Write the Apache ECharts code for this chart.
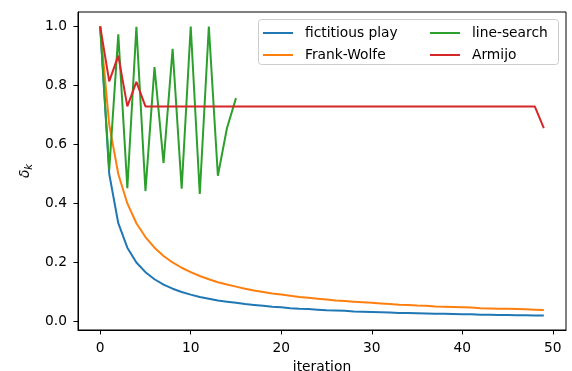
<!DOCTYPE html>
<html>
<head>
<meta charset="utf-8">
<script src="https://cdn.jsdelivr.net/npm/echarts@6/dist/echarts.min.js"></script>
<style>html,body{margin:0;padding:0;background:#fff}#c{width:572px;height:371px}</style>
</head>
<body>
<div id="c"></div>
<script>
const xTicks = [0, 10, 20, 30, 40, 50];
const yTicks = [0, 0.2, 0.4, 0.6, 0.8, 1.0];
const seriesNames = ['fictitious play', 'Frank-Wolfe', 'line-search', 'Armijo'];
const fictitiousPlay = [1.000, 0.500, 0.333, 0.250, 0.200, 0.167, 0.143, 0.125, 0.111, 0.100,
  0.091, 0.083, 0.077, 0.071, 0.067, 0.063, 0.059, 0.056, 0.053, 0.050,
  0.048, 0.045, 0.043, 0.042, 0.040, 0.038, 0.037, 0.036, 0.034, 0.033,
  0.032, 0.031, 0.030, 0.029, 0.029, 0.028, 0.027, 0.026, 0.026, 0.025,
  0.024, 0.024, 0.023, 0.023, 0.022, 0.022, 0.021, 0.021, 0.020, 0.020];
const frankWolfe = [1.000, 0.667, 0.500, 0.400, 0.333, 0.286, 0.250, 0.222, 0.200, 0.182,
  0.167, 0.154, 0.143, 0.133, 0.125, 0.118, 0.111, 0.105, 0.100, 0.095,
  0.091, 0.087, 0.083, 0.080, 0.077, 0.074, 0.071, 0.069, 0.067, 0.065,
  0.063, 0.061, 0.059, 0.057, 0.056, 0.054, 0.053, 0.051, 0.050, 0.049,
  0.048, 0.047, 0.045, 0.044, 0.043, 0.043, 0.042, 0.041, 0.040, 0.039];
const lineSearch = [1.000, 0.514, 0.973, 0.452, 0.999, 0.442, 0.862, 0.537, 0.924, 0.450,
  1.000, 0.432, 1.000, 0.494, 0.655, 0.757];
const armijo = [1.000, 0.814, 0.901, 0.729, 0.812, 0.729, 0.729, 0.729, 0.729, 0.729,
  0.729, 0.729, 0.729, 0.729, 0.729, 0.729, 0.729, 0.729, 0.729, 0.729,
  0.729, 0.729, 0.729, 0.729, 0.729, 0.729, 0.729, 0.729, 0.729, 0.729,
  0.729, 0.729, 0.729, 0.729, 0.729, 0.729, 0.729, 0.729, 0.729, 0.729,
  0.729, 0.729, 0.729, 0.729, 0.729, 0.729, 0.729, 0.729, 0.729, 0.655];

const colors = ['#1f77b4', '#ff7f0e', '#2ca02c', '#d62728'];
const allData = [fictitiousPlay, frankWolfe, lineSearch, armijo];
const FONT = 'DejaVu Sans';
const FS = 13.8;

const chart = echarts.init(document.getElementById('c'), null, {renderer: 'canvas'});
const legendCommon = {
  orient: 'vertical', top: 26, padding: 0, itemGap: 8, itemWidth: 30, itemHeight: 2, icon: 'rect',
  textStyle: {fontFamily: FONT, fontSize: FS, color: '#000', padding: [0, 0, 0, 7]},
  selectedMode: false
};
chart.setOption({
  animation: false,
  grid: {left: 78, right: 6, top: 12, bottom: 41, outerBoundsMode: 'none', containLabel: false,
    show: true, borderColor: '#000', borderWidth: 1, backgroundColor: 'transparent'},
  graphic: [{
    type: 'rect', z: 3, shape: {x: 258.5, y: 19.5, width: 300, height: 45, r: 3},
    style: {fill: 'rgba(255,255,255,0.8)', stroke: '#cccccc', lineWidth: 1}
  }],
  legend: [
    Object.assign({left: 263, data: [seriesNames[0], seriesNames[1]]}, legendCommon),
    Object.assign({left: 430, data: [seriesNames[2], seriesNames[3]]}, legendCommon)
  ],
  xAxis: {
    type: 'value', min: -2.45, max: 51.45,
    name: 'iteration', nameLocation: 'middle', nameGap: 30,
    nameTextStyle: {fontFamily: FONT, fontSize: FS, color: '#000'},
    axisLine: {show: true, onZero: false, lineStyle: {color: '#000', width: 1}},
    axisTick: {show: true, inside: false, length: 4.5, lineStyle: {color: '#000'}, customValues: xTicks},
    axisLabel: {fontFamily: FONT, fontSize: FS, color: '#000', margin: 11, customValues: xTicks},
    splitLine: {show: false}
  },
  yAxis: {
    type: 'value', min: -0.029, max: 1.049,
    name: '{d|δ}{k|k}', nameLocation: 'middle', nameGap: 44, nameRotate: 90,
    nameTextStyle: {fontFamily: FONT, fontSize: FS, color: '#000',
      rich: {d: {fontFamily: FONT, fontSize: FS, fontStyle: 'italic', color: '#000'},
             k: {fontFamily: FONT, fontSize: 10, fontStyle: 'italic', color: '#000', padding: [8, 0, 0, 0]}}},
    axisLine: {show: true, onZero: false, lineStyle: {color: '#000', width: 1}},
    axisTick: {show: true, inside: false, length: 4.5, lineStyle: {color: '#000'}, customValues: yTicks},
    axisLabel: {fontFamily: FONT, fontSize: FS, color: '#000', margin: 11, customValues: yTicks,
      formatter: v => v.toFixed(1)},
    splitLine: {show: false}
  },
  series: allData.map((arr, i) => ({
    name: seriesNames[i], type: 'line', z: 2,
    data: arr.map((v, k) => [k, v]),
    showSymbol: false, symbol: 'none',
    lineStyle: {color: colors[i], width: 2},
    itemStyle: {color: colors[i]}
  }))
});
</script>
</body>
</html>
